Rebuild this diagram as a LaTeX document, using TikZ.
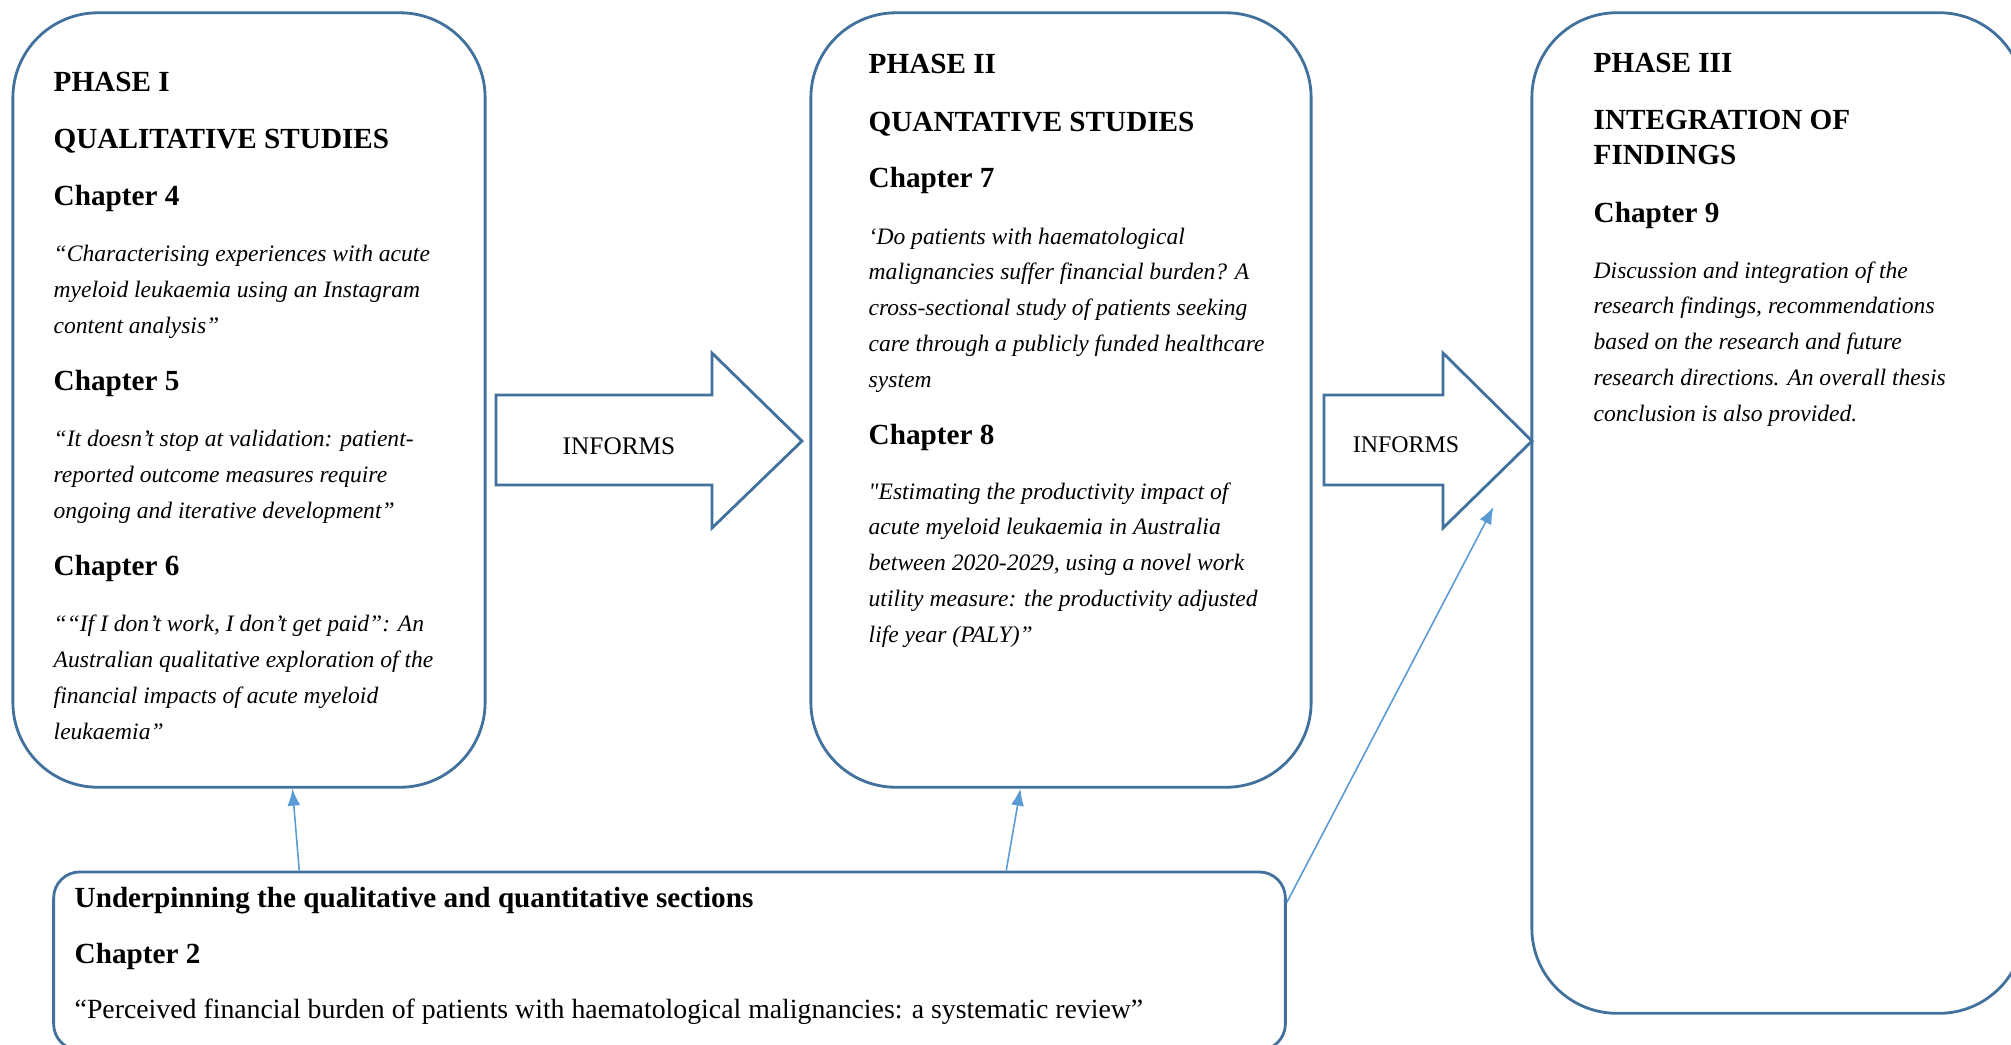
\documentclass[tikz,border=0pt]{standalone}
\usepackage{fontspec}
\setmainfont{Liberation Serif}
\usetikzlibrary{calc,positioning,arrows.meta}
\definecolor{boxblue}{HTML}{41719C}
\definecolor{linkblue}{HTML}{5B9BD5}

\tikzset{
	phasebox/.style={draw=boxblue,line width=0.8pt,rounded corners=0.85cm,inner sep=0pt},
	basebox/.style={draw=boxblue,line width=0.8pt,rounded corners=0.26cm,inner sep=0pt},
	blockarrow/.style={draw=boxblue,line width=0.8pt,fill=white},
	head/.style={font=\fontsize{8.3}{9.7}\selectfont\bfseries,anchor=base west,inner sep=0pt,align=left},
	quote/.style={font=\fontsize{6.7}{10.16}\selectfont\itshape,anchor=base west,inner sep=0pt,align=left},
	plain/.style={font=\fontsize{7.9}{9}\selectfont,anchor=base west,inner sep=0pt},
	informs/.style={font=\fontsize{7.2}{9}\selectfont,inner sep=0pt},
	link/.style={draw=linkblue,line width=0.45pt,-{Latex[length=1.7mm,width=1.3mm]}}
}

\begin{document}
\begin{tikzpicture}[x=0.01cm,y=-0.01cm]
	\useasboundingbox (0,0) rectangle (2011,1044);
	\clip (0,0) rectangle (2011,1044);
	% boxes
	\node[phasebox,minimum width=4.72cm,minimum height=7.74cm] (ph1) at (249,400) {};
	\node[phasebox,minimum width=5.00cm,minimum height=7.74cm] (ph2) at (1061,400) {};
	\node[phasebox,minimum width=4.92cm,minimum height=10.00cm] (ph3) at (1778,513) {};
	\node[basebox,minimum width=12.31cm,minimum height=1.78cm] (under) at (669.5,961) {};
	% block arrows
	\draw[blockarrow] (496,395) -- (712,395) -- (712,353) -- (802,441) -- (712,528) -- (712,485) -- (496,485) -- cycle;
	\draw[blockarrow] (1324,395) -- (1443,395) -- (1443,353) -- (1532,441) -- (1443,528) -- (1443,485) -- (1324,485) -- cycle;
	\node[informs] (inf1) at (619,446) {INFORMS};
	\node[informs,font=\fontsize{6.8}{9}\selectfont] (inf2) at (1406,445) {INFORMS};
	% phase I (multi-line nodes sit on their last baseline)
	\node[head] (p1) at (53,91) {PHASE I};
	\node[head] (p1t) at (53,148) {QUALITATIVE STUDIES};
	\node[head] (c4) at (53,205) {Chapter 4};
	\node[quote] (q4) at (53,333) {“Characterising experiences with acute\\myeloid leukaemia using an Instagram\\content analysis”};
	\node[head] (c5) at (53,390) {Chapter 5};
	\node[quote] (q5) at (53,518) {“It doesn’t stop at validation: patient-\\reported outcome measures require\\ongoing and iterative development”};
	\node[head] (c6) at (53,575) {Chapter 6};
	\node[quote] (q6) at (53,739) {““If I don’t work, I don’t get paid”: An\\Australian qualitative exploration of the\\financial impacts of acute myeloid\\leukaemia”};
	% phase II
	\node[head] (p2) at (868,73) {PHASE II};
	\node[head] (p2t) at (868,131) {QUANTATIVE STUDIES};
	\node[head] (c7) at (868,187) {Chapter 7};
	\node[quote] (q7) at (868,387) {‘Do patients with haematological\\malignancies suffer financial burden? A\\cross-sectional study of patients seeking\\care through a publicly funded healthcare\\system};
	\node[head] (c8) at (868,444) {Chapter 8};
	\node[quote] (q8) at (868,642) {\textquotedbl Estimating the productivity impact of\\acute myeloid leukaemia in Australia\\between 2020-2029, using a novel work\\utility measure: the productivity adjusted\\life year (PALY)”};
	% phase III
	\node[head] (p3) at (1593,72) {PHASE III};
	\node[head] (p3t) at (1593,164) {INTEGRATION OF\\FINDINGS};
	\node[head] (c9) at (1593,222) {Chapter 9};
	\node[quote] (q9) at (1593,421) {Discussion and integration of the\\research findings, recommendations\\based on the research and future\\research directions. An overall thesis\\conclusion is also provided.};
	% underpinning
	\node[head] (u1) at (74,907) {Underpinning the qualitative and quantitative sections};
	\node[head] (c2) at (74,963) {Chapter 2};
	\node[plain] (q2) at (74,1018) {“Perceived financial burden of patients with haematological malignancies: a systematic review”};
	% links
	\draw[link] ($(under.north west)+(247,0)$) -- ($(ph1.south west)+(281,0)$);
	\draw[link] ($(under.north west)+(954,0)$) -- ($(ph2.south west)+(211,0)$);
	\draw[link] ($(under.north east)+(0,32)$) -- ($(ph3.west)+(-37,-6)$);
\end{tikzpicture}
\end{document}
